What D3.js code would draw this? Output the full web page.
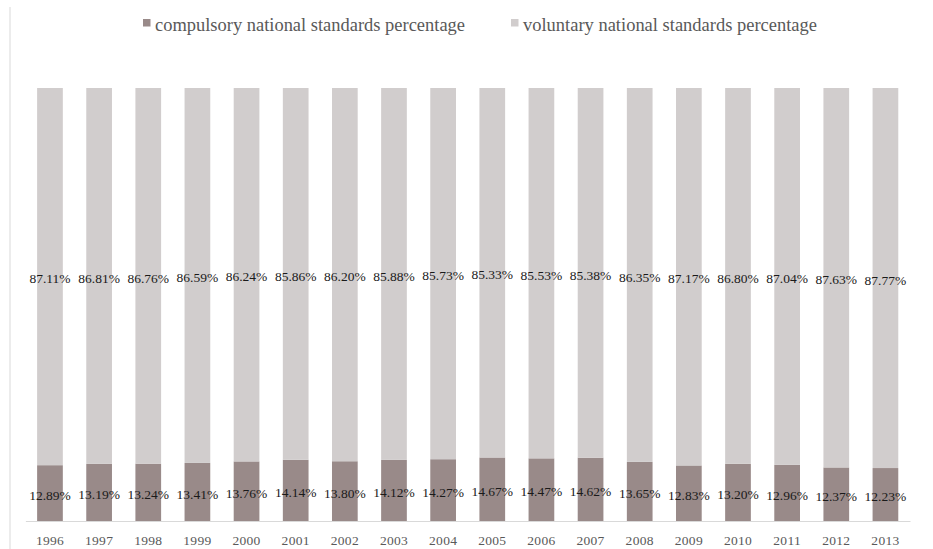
<!DOCTYPE html>
<html>
<head>
<meta charset="utf-8">
<script src="https://d3js.org/d3.v7.min.js"></script>
<style>
  body { margin: 0; background: #fff; }
</style>
</head>
<body>
<div id="chart-area"></div>
<script>
var years = ["1996", "1997", "1998", "1999", "2000", "2001", "2002", "2003", "2004",
  "2005", "2006", "2007", "2008", "2009", "2010", "2011", "2012", "2013"];
var compulsory = [12.89, 13.19, 13.24, 13.41, 13.76, 14.14, 13.80, 14.12, 14.27,
  14.67, 14.47, 14.62, 13.65, 12.83, 13.20, 12.96, 12.37, 12.23];
var voluntary = [87.11, 86.81, 86.76, 86.59, 86.24, 85.86, 86.20, 85.88, 85.73,
  85.33, 85.53, 85.38, 86.35, 87.17, 86.80, 87.04, 87.63, 87.77];
var seriesNames = ["compulsory national standards percentage", "voluntary national standards percentage"];
var colors = ["#998a89", "#d1cdcd"];

var width = 933, height = 549;

var svg = d3.select("#chart-area")
  .append("svg")
  .attr("width", width)
  .attr("height", height);

var x = d3.scaleBand()
  .domain(years)
  .range([25.4, 910])
  .paddingInner(0.477)
  .paddingOuter(0.2385);

var y = d3.scaleLinear()
  .domain([0, 100])
  .range([521, 88]);

var data = years.map((yr, i) => ({ year: yr, compulsory: compulsory[i], voluntary: voluntary[i] }));
var stack = d3.stack().keys(["compulsory", "voluntary"]);
var layers = stack(data);

// left border line
svg.append("line")
  .attr("x1", 10).attr("x2", 10)
  .attr("y1", 7).attr("y2", height)
  .attr("stroke", "#e6e6e6")
  .attr("stroke-width", 1.5);

var layerG = svg.selectAll("g.layer")
  .data(layers)
  .enter().append("g")
  .attr("class", "layer")
  .attr("fill", (d, i) => colors[i]);

layerG.selectAll("rect")
  .data(d => d)
  .enter().append("rect")
  .attr("x", d => x(d.data.year))
  .attr("y", d => y(d[1]))
  .attr("width", x.bandwidth())
  .attr("height", d => y(d[0]) - y(d[1]));

// baseline axis
var xAxis = svg.append("g")
  .attr("transform", "translate(0," + y(0) + ")")
  .call(d3.axisBottom(x).tickSize(0).tickPadding(0));
xAxis.select(".domain").attr("stroke", "#d9d9d9");
xAxis.selectAll("text")
  .attr("y", 24)
  .attr("dy", 0)
  .attr("font-family", "Liberation Serif")
  .attr("font-size", "13.5px")
  .attr("letter-spacing", "0.3px")
  .attr("fill", "#595959");

// value labels
layerG.selectAll("text")
  .data(d => d)
  .enter().append("text")
  .attr("x", d => x(d.data.year) + x.bandwidth() / 2)
  .attr("y", d => (y(d[0]) + y(d[1])) / 2)
  .attr("dy", "0.5em")
  .attr("text-anchor", "middle")
  .attr("font-family", "Liberation Serif")
  .attr("font-size", "13.5px")
  .attr("fill", "#1a1a1a")
  .text(d => (d[1] - d[0]).toFixed(2) + "%");

// legend
var legendPos = [{ sx: 143, tx: 155, len: 310 }, { sx: 511, tx: 523, len: 294 }];
var legend = svg.selectAll("g.legend")
  .data(seriesNames)
  .enter().append("g")
  .attr("class", "legend");

legend.append("rect")
  .attr("x", (d, i) => legendPos[i].sx)
  .attr("y", 19)
  .attr("width", 7.5)
  .attr("height", 7.5)
  .attr("fill", (d, i) => colors[i]);

legend.append("text")
  .attr("x", (d, i) => legendPos[i].tx)
  .attr("y", 31)
  .attr("font-family", "Liberation Serif")
  .attr("font-size", "18px")
  .attr("fill", "#595959")
  .attr("textLength", (d, i) => legendPos[i].len)
  .attr("lengthAdjust", "spacingAndGlyphs")
  .text(d => d);
</script>
</body>
</html>
